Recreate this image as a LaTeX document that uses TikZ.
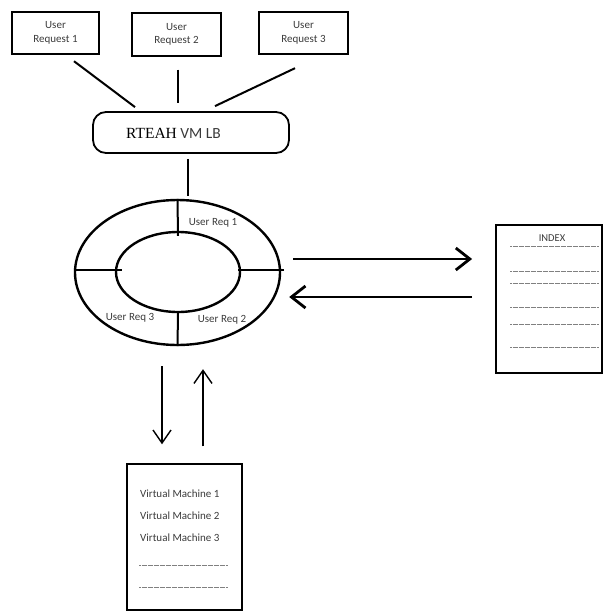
\documentclass[tikz,border=0pt]{standalone}
\usepackage{fontspec}
\setmainfont{Carlito}
\newfontfamily\rteahfont{Liberation Serif}
\usetikzlibrary{arrows.meta,calc,shapes.geometric}
\definecolor{txtgray}{HTML}{3A3A3A}
\tikzset{
  reqbox/.style={draw,line width=2.4pt,minimum width=87pt,minimum height=42pt,align=center,font=\fontsize{11}{13.5}\selectfont,text=txtgray,inner sep=0pt},
  conn/.style={line width=2pt},
  ring/.style={draw,ellipse,line width=2.4pt,inner sep=0pt},
  radial/.style={line width=2pt},
  lbl/.style={font=\fontsize{11}{13}\selectfont,text=txtgray,inner sep=0pt},
  bigarrow/.style={line width=2.8pt,-{Straight Barb[length=14pt,width=22pt]}},
  thinarrow/.style={line width=1.4pt,-{Straight Barb[length=13pt,width=18pt]}},
  dotline/.style={gray,line width=0.5pt,dash pattern=on 0.6pt off 0.6pt},
}
\begin{document}
\begin{tikzpicture}[x=1pt,y=-1pt]
\useasboundingbox (0,0) rectangle (603,611);
% user request boxes
\node[reqbox] (ur1) at (55.5,33) {User\\Request 1};
\node[reqbox,minimum width=89pt,minimum height=43pt] (ur2) at (176.5,34.5) {User\\Request 2};
\node[reqbox,minimum width=89pt] (ur3) at (303.5,33) {User\\Request 3};
% load balancer
\node[draw,line width=1.8pt,rounded corners=13pt,minimum width=196pt,minimum height=41pt,inner sep=0pt] (lb) at (191,132.5) {};
\node[inner sep=0pt,anchor=west] (lbtxt) at (126,133) {\fontsize{15.5}{17}\selectfont{\rteahfont RTEAH} \textcolor{txtgray}{VM LB}};
% connectors to load balancer
\draw[conn] ($(ur1.south)+(18.5,6)$) -- ($(lb.north)+(-56,-4)$);
\draw[conn] ($(ur2.south)+(1.5,12.5)$) -- ($(lb.north)+(-13,-8)$);
\draw[conn] ($(ur3.south)+(-8.5,13)$) -- ($(lb.north)+(24,-5)$);
% rings
\node[ring,minimum width=205pt,minimum height=145pt] (outer) at (177.5,272.5) {};
\node[ring,minimum width=124pt,minimum height=80pt] (inner) at (178,272) {};
\draw[conn] ($(lb.south)+(-3,5)$) -- ($(outer.north)+(10.5,-3)$);
% radial separators
\draw[radial] (outer.north) -- ($(inner.north)+(0,5)$);
\draw[radial] ($(outer.west)+(0,-2.5)$) -- ($(inner.west)+(7,-2)$);
\draw[radial] ($(outer.east)+(3,-2.5)$) -- ($(inner.east)+(-3,-2)$);
\draw[radial] (outer.south) -- (inner.south);
\node[lbl] (req1) at (213,223) {User Req 1};
\node[lbl] (req3) at (130,318) {User Req 3};
\node[lbl] (req2) at (222,320) {User Req 2};
% index box
\node[draw,line width=1.8pt,minimum width=106pt,minimum height=148pt,inner sep=0pt] (index) at (549,299) {};
\node[font=\fontsize{10.5}{12}\selectfont,text=txtgray,inner sep=0pt] (idxtxt) at (552,238) {INDEX};
\foreach \yy in {246,271,283,307,324,347}{
  \draw[dotline] ($(index.west)+(15,\yy-299)$) -- ($(index.east)+(-5,\yy-299)$);
}
% arrows to/from index
\draw[bigarrow] ($(outer.east)+(12,-13.5)$) -- ($(index.west)+(-23,-40)$);
\draw[bigarrow] ($(index.west)+(-23,-2)$) -- ($(outer.east)+(8,24.5)$);
% vm box
\node[draw,line width=1.5pt,minimum width=115pt,minimum height=146pt,inner sep=0pt] (vm) at (184.5,537) {};
\node[lbl,anchor=west] (vm1) at (140,494) {Virtual Machine 1};
\node[lbl,anchor=west] (vm2) at (140,516) {Virtual Machine 2};
\node[lbl,anchor=west] (vm3) at (140,538) {Virtual Machine 3};
\draw[dotline] ($(vm.west)+(13,28)$) -- ($(vm.east)+(-15,28)$);
\draw[dotline] ($(vm.west)+(13,50)$) -- ($(vm.east)+(-15,50)$);
% arrows to/from vm
\draw[thinarrow] ($(outer.south)+(-15.5,20)$) -- ($(vm.north)+(-22.5,-19)$);
\draw[thinarrow] ($(vm.north)+(18.5,-17)$) -- ($(outer.south)+(25.5,23)$);
\end{tikzpicture}
\end{document}
